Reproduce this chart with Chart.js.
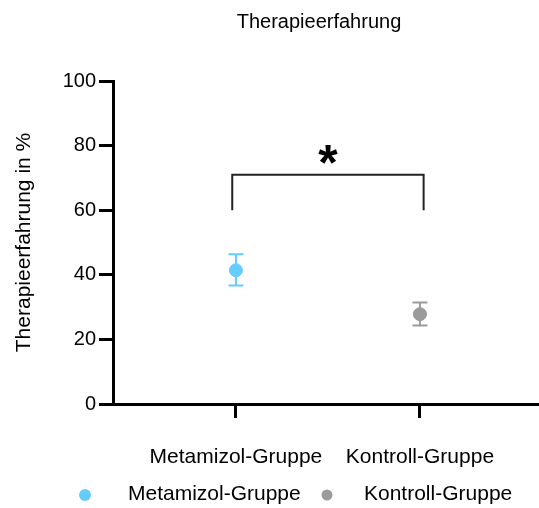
<!DOCTYPE html>
<html>
<head>
<meta charset="utf-8">
<script src="https://cdn.jsdelivr.net/npm/chart.js@4.4.1/dist/chart.umd.min.js"></script>
<style>
	html, body { margin: 0; padding: 0; background: #fff; }
</style>
</head>
<body>
<canvas id="chart" width="539" height="508"></canvas>
<script>
// values
const categories = ["Metamizol-Gruppe", "Kontroll-Gruppe"];
const means = [41.4, 27.8];
const upperErr = [46.4, 31.4];
const lowerErr = [36.7, 24.3];
const yTicks = [0, 20, 40, 60, 80, 100];
const bracketX = [0.98, 2.02]; // category units
const bracketY = [60, 71];
const starY = 77.3;

const FONT = "'Liberation Sans', Arial, sans-serif";
const groupColors = ["#66ccff", "#9b9b9b"];

// error bars, drawn under the points
const errorBars = {
	id: "errorBars",
	beforeDatasetsDraw(chart) {
		const { ctx, scales: { x, y } } = chart;
		ctx.save();
		ctx.lineWidth = 2;
		means.forEach((m, i) => {
			const px = x.getPixelForValue(i + 1);
			const top = y.getPixelForValue(upperErr[i]);
			const bot = y.getPixelForValue(lowerErr[i]);
			ctx.strokeStyle = groupColors[i];
			ctx.beginPath();
			ctx.moveTo(px, top);
			ctx.lineTo(px, bot);
			ctx.moveTo(px - 7.5, top);
			ctx.lineTo(px + 7.5, top);
			ctx.moveTo(px - 7.5, bot);
			ctx.lineTo(px + 7.5, bot);
			ctx.stroke();
		});
		ctx.restore();
	},
};

// significance bracket + star, title and legend
const annotations = {
	id: "annotations",
	afterDraw(chart) {
		const { ctx, scales: { x, y } } = chart;
		const x1 = x.getPixelForValue(bracketX[0]);
		const x2 = x.getPixelForValue(bracketX[1]);
		const yLow = y.getPixelForValue(bracketY[0]);
		const yHigh = y.getPixelForValue(bracketY[1]);
		ctx.save();
		ctx.strokeStyle = "#222";
		ctx.lineWidth = 2;
		ctx.beginPath();
		ctx.moveTo(x1, yLow);
		ctx.lineTo(x1, yHigh);
		ctx.lineTo(x2, yHigh);
		ctx.lineTo(x2, yLow);
		ctx.stroke();

		// star, ink centred on starY
		ctx.fillStyle = "#000";
		ctx.textAlign = "center";
		ctx.textBaseline = "alphabetic";
		ctx.font = `bold 50px ${FONT}`;
		const m = ctx.measureText("*");
		const inkMid = (m.actualBoundingBoxAscent - m.actualBoundingBoxDescent) / 2;
		ctx.fillText("*", (x1 + x2) / 2, y.getPixelForValue(starY) + inkMid);

		// title
		ctx.font = `20px ${FONT}`;
		ctx.fillText("Therapieerfahrung", 319, 28);

		// legend
		const items = [
			{ dot: 85, text: 128, r: 6 },
			{ dot: 327, text: 364, r: 5.5 },
		];
		ctx.font = `21px ${FONT}`;
		ctx.textAlign = "left";
		chart.data.datasets.forEach((ds, i) => {
			ctx.fillStyle = ds.backgroundColor;
			ctx.beginPath();
			ctx.arc(items[i].dot, 495, items[i].r, 0, Math.PI * 2);
			ctx.fill();
			ctx.fillStyle = "#000";
			ctx.fillText(ds.label, items[i].text, 500);
		});
		ctx.restore();
	},
};

const ctx = document.getElementById("chart").getContext("2d");
new Chart(ctx, {
	type: "scatter",
	data: {
		datasets: categories.map((c, i) => ({
			label: c,
			data: [{ x: i + 1, y: means[i] }],
			backgroundColor: groupColors[i],
			borderColor: groupColors[i],
			pointRadius: 6.5,
			pointHoverRadius: 6.5,
		})),
	},
	options: {
		responsive: false,
		animation: false,
		layout: {
			autoPadding: false,
			padding: { top: 81, right: 0, bottom: 0, left: 0 },
		},
		scales: {
			x: {
				type: "linear",
				min: 0.332,
				max: 2.647,
				afterFit: (scale) => {
					scale.height = 104;
					scale.paddingLeft = 0;
					scale.paddingRight = 0;
				},
				afterBuildTicks: (scale) => {
					scale.ticks = categories.map((c, i) => ({ value: i + 1 }));
				},
				ticks: {
					color: "#000",
					font: { family: FONT, size: 21 },
					padding: 27,
					callback: (v) => categories[v - 1] || "",
				},
				grid: {
					drawOnChartArea: false,
					tickLength: 14,
					tickWidth: 3,
					tickColor: "#000",
				},
				border: { color: "#000", width: 3 },
			},
			y: {
				min: 0,
				max: 100,
				afterFit: (scale) => {
					scale.width = 113;
					scale.paddingTop = 0;
					scale.paddingBottom = 0;
				},
				afterBuildTicks: (scale) => {
					scale.ticks = yTicks.map((v) => ({ value: v }));
				},
				ticks: {
					color: "#000",
					font: { family: FONT, size: 20 },
					padding: 3,
				},
				grid: {
					drawOnChartArea: false,
					tickLength: 14,
					tickWidth: 3,
					tickColor: "#000",
				},
				border: { color: "#000", width: 3 },
				title: {
					display: true,
					text: "Therapieerfahrung in %",
					color: "#000",
					font: { family: FONT, size: 21 },
					padding: { top: 12, bottom: 0 },
				},
			},
		},
		plugins: {
			legend: { display: false },
			title: { display: false },
			tooltip: { enabled: false },
		},
	},
	plugins: [errorBars, annotations],
});
</script>
</body>
</html>
